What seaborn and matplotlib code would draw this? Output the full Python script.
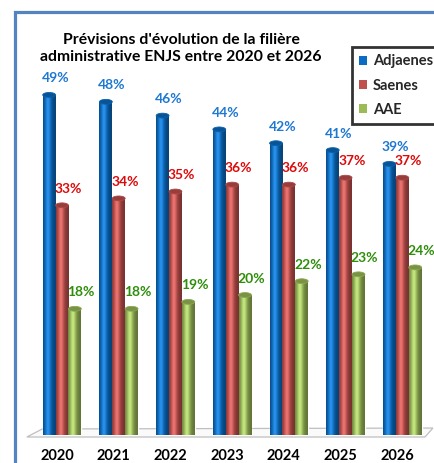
import numpy as np
import pandas as pd
import matplotlib.pyplot as plt
import matplotlib.transforms as mtransforms
from matplotlib.patches import Ellipse, Polygon, Rectangle, Patch
from matplotlib.colors import to_rgb
import seaborn as sns

years = ["2020", "2021", "2022", "2023", "2024", "2025", "2026"]
series = ["Adjaenes", "Saenes", "AAE"]
adjaenes = [49, 48, 46, 44, 42, 41, 39]
saenes = [33, 34, 35, 36, 36, 37, 37]
aae = [18, 18, 19, 20, 22, 23, 24]

bar_colors = ["#0A6CC2", "#C0504D", "#9BBB59"]
label_colors = ["#1E78D2", "#DD0A0A", "#2E8E0A"]

title = "Prévisions d'évolution de la filière\nadministrative ENJS entre 2020 et 2026"

df = pd.DataFrame({
    "year": years * 3,
    "series": [s for s in series for _ in years],
    "value": adjaenes + saenes + aae,
})
values = [adjaenes, saenes, aae]

sns.set_style("white")
plt.rcParams["font.family"] = ["Lato", "DejaVu Sans"]

fig = plt.figure(figsize=(4.35, 4.63), dpi=100)
ax = fig.add_axes([33.65 / 435, 30 / 463, 397 / 435, 414 / 463])

sns.barplot(data=df, x="year", y="value", hue="series", palette=bar_colors,
            saturation=1, width=0.68, errorbar=None, legend=False, ax=ax)

ax.set_xlim(-0.5, 6.5)
ax.set_ylim(0, 60)
ax.set_xlabel("")
ax.set_ylabel("")
ax.set_yticks([])
for sp in ax.spines.values():
    sp.set_visible(False)

# floor of the 3D chart
floor = Polygon([(-0.62, -0.58), (-0.35, 0.58), (6.54, 0.72), (6.40, -0.58)],
                closed=True, facecolor="#FAFAFA", edgecolor="#BFBFBF",
                lw=0.9, zorder=0.5, clip_on=False)
ax.add_patch(floor)

# cylinder look: gradient across each bar + elliptic caps
t = np.linspace(0, 1, 40)
s = np.exp(-((t - 0.38) / 0.32) ** 2)
cap_h = 0.7
for i, cont in enumerate(ax.containers):
    base = np.array(to_rgb(bar_colors[i]))
    shade = base[None, :] * (0.62 + 0.45 * s[:, None]) + 0.12 * s[:, None] ** 3
    shade = np.clip(shade, 0, 1)
    img = np.repeat(shade[None, :, :], 2, axis=0)
    for j, bar in enumerate(cont):
        x0, w, h = bar.get_x(), bar.get_width(), bar.get_height()
        bar.set_zorder(1)
        im = ax.imshow(img, extent=[x0, x0 + w, 0, h], aspect="auto",
                       zorder=2, interpolation="bilinear")
        im.set_clip_path(bar)
        bottom = Ellipse((x0 + w / 2, 0), w, cap_h, facecolor="none",
                         edgecolor="none", zorder=2, clip_on=False)
        ax.add_patch(bottom)
        im2 = ax.imshow(img, extent=[x0, x0 + w, -cap_h / 2, 0], aspect="auto",
                        zorder=2, interpolation="bilinear", clip_on=False)
        im2.set_clip_path(bottom)
        top = Ellipse((x0 + w / 2, h), w, cap_h, facecolor=base * 0.78,
                      edgecolor=base * 0.9, lw=0.6, zorder=3, clip_on=False)
        ax.add_patch(top)
        ax.annotate(f"{values[i][j]}%", (x0 + w / 2, h), xytext=(4.5, 7.5),
                    textcoords="offset points", ha="center", va="bottom",
                    color=label_colors[i], fontsize=10, fontweight="bold",
                    zorder=4)

ax.set_xticks(range(len(years)))
ax.set_xticklabels(years, fontsize=10.5, fontweight="bold", color="black")
ax.tick_params(axis="x", length=0, pad=11.5)
shift = mtransforms.ScaledTranslation(-5 / 100, 0, fig.dpi_scale_trans)
for lab in ax.get_xticklabels():
    lab.set_transform(lab.get_transform() + shift)

fig.text(181 / 435, 1 - 33 / 463, title, ha="center", va="top",
         fontsize=11.3, fontweight="bold", color="black", linespacing=1.3)

handles = [Patch(facecolor=c, edgecolor="none") for c in bar_colors]
leg = fig.legend(handles, series, loc="upper left",
                 bbox_to_anchor=(352 / 435, 1 - 47 / 463),
                 prop={"weight": "bold", "size": 10.5}, frameon=True,
                 fancybox=False, edgecolor="black", handlelength=0.55,
                 handleheight=0.55, handletextpad=0.4, labelspacing=0.7,
                 borderpad=0.5, borderaxespad=0)
leg.get_frame().set_linewidth(2)

frame = Rectangle((15 / 435, -0.1), 1.2, (463 - 11.5) / 463 + 0.1,
                  transform=fig.transFigure, facecolor="none",
                  edgecolor="#5384C0", lw=2.3, zorder=10)
fig.patches.append(frame)

fig.savefig("out.png", dpi=100, facecolor="white")
